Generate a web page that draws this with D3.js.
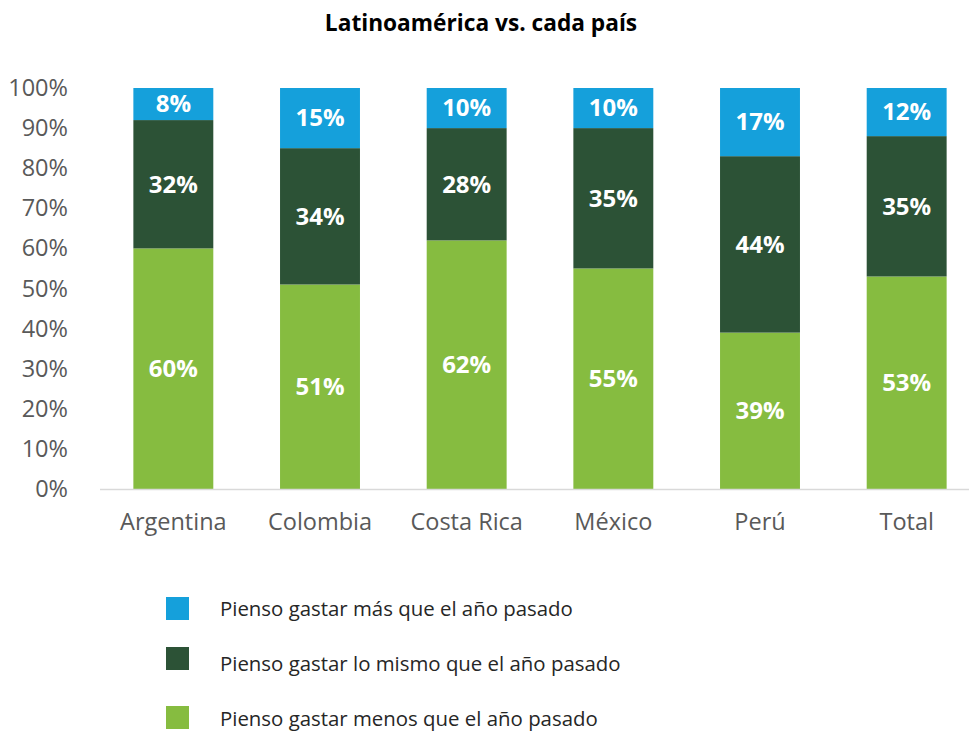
<!DOCTYPE html>
<html lang="es">
  <head>
    <meta charset="UTF-8" />
    <title>Latinoamérica vs. cada país</title>
    <style>
      body { margin: 0; background: #fff; }
      svg text { font-family: "Open Sans", "Noto Sans", sans-serif; }
    </style>
  </head>
  <body>
    <div class="chart"></div>
    <script src="https://d3js.org/d3.v7.min.js"></script>
    <script>
      const width = 969;
      const height = 731;

      const countries = ["Argentina", "Colombia", "Costa Rica", "México", "Perú", "Total"];
      const menos = [60, 51, 62, 55, 39, 53];
      const mismo = [32, 34, 28, 35, 44, 35];
      const mas = [8, 15, 10, 10, 17, 12];
      const yTicks = [0, 10, 20, 30, 40, 50, 60, 70, 80, 90, 100];

      const seriesNames = [
        "Pienso gastar menos que el año pasado",
        "Pienso gastar lo mismo que el año pasado",
        "Pienso gastar más que el año pasado",
      ];
      const colors = ["#86bc40", "#2c5236", "#15a0db"];

      // tabla para el stack
      const table = countries.map((c, i) => ({
        country: c,
        menos: menos[i],
        mismo: mismo[i],
        mas: mas[i],
      }));
      const keys = ["menos", "mismo", "mas"];
      const stacked = d3.stack().keys(keys)(table);

      const svg = d3
        .select(".chart")
        .append("svg")
        .attr("width", width)
        .attr("height", height);

      const x = d3
        .scaleBand()
        .domain(countries)
        .range([100, 980])
        .paddingInner(0.455)
        .paddingOuter(0.2275);

      const y = d3.scaleLinear().domain([0, 100]).range([489, 88]);

      // título
      svg
        .append("text")
        .attr("x", 481)
        .attr("y", 31)
        .attr("text-anchor", "middle")
        .style("font-size", "22.7px")
        .style("font-weight", "bold")
        .style("fill", "#000")
        .text("Latinoamérica vs. cada país");

      // eje y
      const yAxis = svg
        .append("g")
        .attr("transform", "translate(68,0)")
        .call(
          d3
            .axisLeft(y)
            .tickValues(yTicks)
            .tickFormat((d) => d + "%")
            .tickSize(0)
            .tickPadding(0)
        );
      yAxis.select(".domain").remove();
      yAxis
        .selectAll("text")
        .style("font-size", "23.5px")
        .style("fill", "#595959");

      // barras
      const groups = svg
        .append("g")
        .selectAll("g")
        .data(stacked)
        .join("g")
        .attr("fill", (d, i) => colors[i]);

      groups
        .selectAll("rect")
        .data((d) => d)
        .join("rect")
        .attr("x", (d) => x(d.data.country))
        .attr("width", x.bandwidth())
        .attr("y", (d) => y(d[1]))
        .attr("height", (d) => y(d[0]) - y(d[1]));

      // etiquetas
      groups
        .selectAll("text")
        .data((d) => d.map((v) => ({ v, key: d.key })))
        .join("text")
        .attr("x", (d) => x(d.v.data.country) + x.bandwidth() / 2)
        .attr("y", (d) => (y(d.v[0]) + y(d.v[1])) / 2)
        .attr("dy", "0.35em")
        .attr("text-anchor", "middle")
        .style("font-size", "24px")
        .style("font-weight", "bold")
        .style("fill", "#fff")
        .text((d) => d.v.data[d.key] + "%");

      // eje x
      const xAxis = svg
        .append("g")
        .attr("transform", "translate(0,489)")
        .call(d3.axisBottom(x).tickSize(0).tickPadding(24));
      xAxis.select(".domain").remove();
      xAxis
        .selectAll("text")
        .style("font-size", "23.5px")
        .style("fill", "#595959");

      svg
        .append("line")
        .attr("x1", 100)
        .attr("x2", 969)
        .attr("y1", 489.5)
        .attr("y2", 489.5)
        .attr("stroke", "#d9d9d9")
        .attr("stroke-width", 1.5);

      // leyenda
      const legendY = [706, 647, 597];
      const legendTextY = [719, 664, 609];
      const legend = svg
        .append("g")
        .selectAll("g")
        .data(seriesNames)
        .join("g");

      legend
        .append("rect")
        .attr("x", 166)
        .attr("y", (d, i) => legendY[i])
        .attr("width", 23)
        .attr("height", 23)
        .attr("fill", (d, i) => colors[i]);

      legend
        .append("text")
        .attr("x", 220)
        .attr("y", (d, i) => legendTextY[i])
        .attr("dy", "0.35em")
        .style("font-size", "20.4px")
        .style("fill", "#262626")
        .text((d) => d);
    </script>
  </body>
</html>
